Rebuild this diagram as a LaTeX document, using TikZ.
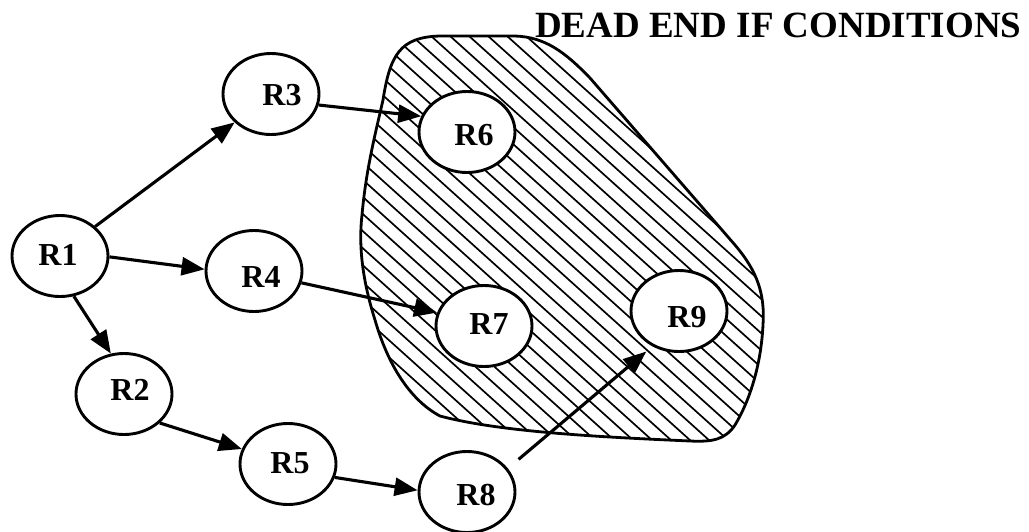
\documentclass[tikz,border=0pt]{standalone}
\usepackage{fontspec}
\setmainfont{Liberation Serif}
\usetikzlibrary{shapes.geometric,arrows.meta}
% Outline of the dead-end zone; the argument gives the path action (draw / clip)
\newcommand{\zoneshape}[1]{%
  \path[#1] (383,100) .. controls (390,55) and (400,37) .. (440,36)
    -- (515,36) .. controls (545,37) and (565,52) .. (590,78)
    -- (735,245) .. controls (758,272) and (765,295) .. (763,325)
    .. controls (761,365) and (750,400) .. (735,425)
    .. controls (725,440) and (712,442) .. (690,441)
    .. controls (600,437) and (500,432) .. (440,416)
    .. controls (410,400) and (388,365) .. (375,320)
    .. controls (364,285) and (358,250) .. (362,215)
    .. controls (366,170) and (375,135) .. (383,100) -- cycle;}
\begin{document}
\begin{tikzpicture}[x=1pt,y=-1pt,
  rnode/.style={ellipse,draw,line width=2.9pt,fill=white,
    minimum width=96pt,minimum height=81pt,inner sep=0pt},
  lbl/.style={font=\fontsize{32}{32}\selectfont\bfseries,inner sep=0pt},
  tag/.style n args={3}{label={[lbl,xshift=#2pt,yshift=#3pt]center:#1}},
  arr/.style={line width=3.1pt,-{Triangle[length=23pt,width=18pt]}},
  hatch/.style={line width=1.7pt},
  zone/.style={draw,line width=2.8pt}]
\useasboundingbox (0,0) rectangle (1029,531);

% hatched zone
\begin{scope}
  \zoneshape{clip}
  \foreach \k in {-160,-141,...,760}
    \draw[hatch] (\k,0) -- ++(900,810);
\end{scope}
\zoneshape{zone}

% title
\node[anchor=base west,font=\fontsize{37}{37}\selectfont\bfseries,inner sep=0pt]
  (title) at (535,37) {DEAD END IF CONDITIONS};

% nodes
\node[rnode,tag={R1}{-2}{1}]  (R1) at (60,256)  {};
\node[rnode,tag={R2}{6}{4}]   (R2) at (124,394) {};
\node[rnode,tag={R3}{11}{-1}] (R3) at (271,94)  {};
\node[rnode,tag={R4}{7}{-6}]  (R4) at (254,271) {};
\node[rnode,tag={R5}{2}{1}]   (R5) at (288,464) {};
\node[rnode,tag={R6}{7}{-3}]  (R6) at (467,132) {};
\node[rnode,tag={R7}{5}{2}]   (R7) at (484,326) {};
\node[rnode,tag={R8}{9}{-3}]  (R8) at (467,492) {};
\node[rnode,tag={R9}{8}{-6}]  (R9) at (679,311) {};

% connectors
\draw[arr] (R1.40)  -- (R3.218);
\draw[arr] (R1.-1)  -- (R4.178);
\draw[arr] (R1.-71) -- (R2.108);
\draw[arr] (R3.-13) -- (R6.161);
\draw[arr] (R4.-14) -- (R7.164);
\draw[arr] (R2.-39) -- (R5.162);
\draw[arr] (R5.-16) -- (R8.178);
\draw[arr,shorten <=14pt,shorten >=8pt] (R8.30) -- (R9.233);
\end{tikzpicture}
\end{document}
